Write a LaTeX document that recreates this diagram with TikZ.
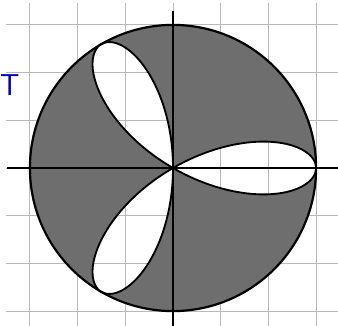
\documentclass[tikz,border=0pt]{standalone}
\begin{document}
\begin{tikzpicture}[x=1cm,y=1cm,
  gridline/.style={gray!55,line width=0.5pt},
  axisline/.style={black,line width=1.3pt},
  grayfill/.style={fill=black!57},
  outline/.style={black,line width=1.1pt},
  handmark/.style={text=blue!75!black,font=\sffamily\fontsize{18}{18}\selectfont,inner sep=0pt}]
\useasboundingbox[fill=white] (-3.627,-3.312) rectangle (3.459,3.522);
% grid
\foreach \i in {-3,...,3} {
  \draw[gridline] (\i,-3.312) -- (\i,3.45);
  \draw[gridline] (-3.5,\i) -- (3.459,\i);
}
% shaded region: disc minus rose petals
\path[grayfill,even odd rule] (0,0) circle (3)
  plot[domain=0:180,samples=241,smooth] ({3*cos(3*\x)*cos(\x)},{3*cos(3*\x)*sin(\x)});
% outlines
\draw[outline] plot[domain=0:180,samples=241,smooth] ({3*cos(3*\x)*cos(\x)},{3*cos(3*\x)*sin(\x)});
\draw[outline,line width=1.3pt] (0,0) circle (3);
% axes
\coordinate (xl) at (-3.48,0);
\coordinate (xr) at (3.459,0);
\coordinate (yb) at (0,-3.312);
\coordinate (yt) at (0,3.3);
\draw[axisline] (xl) -- (xr);
\draw[axisline] (yb) -- (yt);
% handwritten mark
\node[handmark] (t) at (-3.42,1.74) {T};
\end{tikzpicture}
\end{document}
